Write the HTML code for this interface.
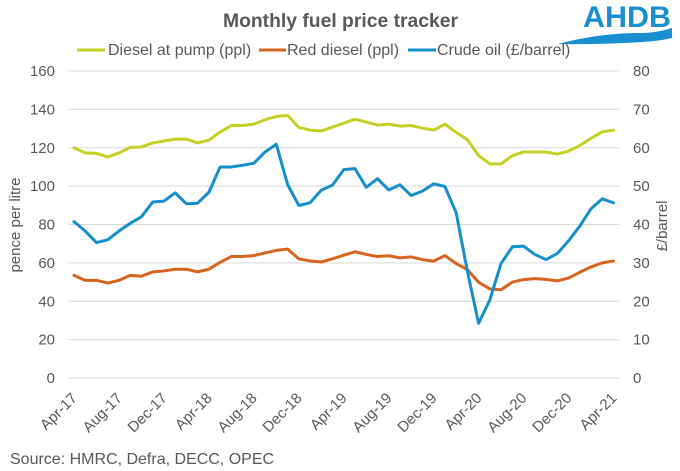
<!DOCTYPE html>
<html>
<head>
<meta charset="utf-8">
<style>
  html, body { margin:0; padding:0; background:#ffffff; }
  svg { display:block; }
  text { font-family: "Liberation Sans", Arial, sans-serif; fill:#595959; }
</style>
</head>
<body>
<svg width="680" height="471" viewBox="0 0 680 471" xmlns="http://www.w3.org/2000/svg">
  <rect x="0" y="0" width="680" height="471" fill="#ffffff"/>

  <!-- Title -->
  <text x="223" y="27" font-size="19" font-weight="bold" textLength="235" lengthAdjust="spacingAndGlyphs">Monthly fuel price tracker</text>

  <!-- AHDB logo -->
  <text x="583" y="27" font-size="30" font-weight="bold" style="fill:#1a8fd0" textLength="88" lengthAdjust="spacingAndGlyphs">AHDB</text>
  <path d="M558 44 C 580 38, 610 33, 640 33 C 655 33, 665 30, 672 28 L 672 38 C 660 41, 645 42, 625 43 C 600 44, 575 44.5, 558 44 Z" fill="#1a8fd0"/>

  <!-- Legend -->
  <line x1="77" y1="50" x2="105" y2="50" stroke="#c5d023" stroke-width="3"/>
  <text x="108" y="55" font-size="16">Diesel at pump (ppl)</text>
  <line x1="259" y1="50" x2="286" y2="50" stroke="#d8641f" stroke-width="3"/>
  <text x="287" y="55" font-size="16">Red diesel (ppl)</text>
  <line x1="408" y1="50" x2="436" y2="50" stroke="#168fcd" stroke-width="3"/>
  <text x="437" y="55" font-size="16">Crude oil (£/barrel)</text>

  <!-- Gridlines -->
  <g stroke="#d9d9d9" stroke-width="1">
    <line x1="68" y1="378" x2="619" y2="378"/>
    <line x1="68" y1="339.6" x2="619" y2="339.6"/>
    <line x1="68" y1="301.3" x2="619" y2="301.3"/>
    <line x1="68" y1="262.9" x2="619" y2="262.9"/>
    <line x1="68" y1="224.5" x2="619" y2="224.5"/>
    <line x1="68" y1="186.1" x2="619" y2="186.1"/>
    <line x1="68" y1="147.8" x2="619" y2="147.8"/>
    <line x1="68" y1="109.4" x2="619" y2="109.4"/>
    <line x1="68" y1="71" x2="619" y2="71"/>
  </g>

  <!-- Left axis labels -->
  <g font-size="15" text-anchor="end">
    <text x="55" y="383">0</text>
    <text x="55" y="344.6">20</text>
    <text x="55" y="306.3">40</text>
    <text x="55" y="267.9">60</text>
    <text x="55" y="229.5">80</text>
    <text x="55" y="191.1">100</text>
    <text x="55" y="152.8">120</text>
    <text x="55" y="114.4">140</text>
    <text x="55" y="76">160</text>
  </g>

  <!-- Right axis labels -->
  <g font-size="15" text-anchor="start">
    <text x="633" y="383">0</text>
    <text x="633" y="344.6">10</text>
    <text x="633" y="306.3">20</text>
    <text x="633" y="267.9">30</text>
    <text x="633" y="229.5">40</text>
    <text x="633" y="191.1">50</text>
    <text x="633" y="152.8">60</text>
    <text x="633" y="114.4">70</text>
    <text x="633" y="76">80</text>
  </g>

  <!-- Axis titles -->
  <text font-size="15" text-anchor="middle" transform="translate(20,225) rotate(-90)">pence per litre</text>
  <text font-size="15" text-anchor="middle" transform="translate(667,226) rotate(-90)">£/barrel</text>

  <!-- X axis labels -->
  <g font-size="15" text-anchor="end">
    <text transform="translate(78,399) rotate(-45)">Apr-17</text>
    <text transform="translate(123,399) rotate(-45)">Aug-17</text>
    <text transform="translate(167.9,399) rotate(-45)">Dec-17</text>
    <text transform="translate(212.9,399) rotate(-45)">Apr-18</text>
    <text transform="translate(257.8,399) rotate(-45)">Aug-18</text>
    <text transform="translate(302.8,399) rotate(-45)">Dec-18</text>
    <text transform="translate(347.8,399) rotate(-45)">Apr-19</text>
    <text transform="translate(392.7,399) rotate(-45)">Aug-19</text>
    <text transform="translate(437.7,399) rotate(-45)">Dec-19</text>
    <text transform="translate(482.6,399) rotate(-45)">Apr-20</text>
    <text transform="translate(527.6,399) rotate(-45)">Aug-20</text>
    <text transform="translate(572.6,399) rotate(-45)">Dec-20</text>
    <text transform="translate(617.5,399) rotate(-45)">Apr-21</text>
  </g>

  <!-- Series (value space: y = 378 - v*1.91875) -->
  <g transform="translate(0,378) scale(1,-1.91875)" fill="none" stroke-width="3" stroke-linejoin="round" stroke-linecap="round">
    <!-- Diesel at pump -->
    <polyline vector-effect="non-scaling-stroke" stroke="#c5d023" points="
      74.0,120 85.2,117.3 96.5,117.1 107.7,115.2 119.0,117.3 130.2,120.2 141.4,120.4 152.7,122.5 163.9,123.5 175.2,124.5
      186.4,124.5 197.6,122.5 208.9,124 220.1,128.2 231.4,131.6 242.6,131.6 253.8,132.3 265.1,134.6 276.3,136.3 287.6,136.8
      298.8,130.6 310.0,129.2 321.3,128.7 332.5,130.8 343.8,132.8 355.0,134.9 366.2,133.4 377.5,131.8 388.7,132.3 400.0,131.3
      411.2,131.6 422.4,130.2 433.7,129.2 444.9,132.3 456.2,128 467.4,124.2 478.6,115.9 489.9,111.6 501.1,111.6 512.4,115.9
      523.6,117.8 534.8,117.8 546.1,117.8 557.3,116.7 568.6,118.3 579.8,121.2 591.0,124.9 602.3,128.3 613.5,129.2"/>
    <!-- Red diesel -->
    <polyline vector-effect="non-scaling-stroke" stroke="#d8641f" points="
      74.0,53.5 85.2,50.9 96.5,50.9 107.7,49.5 119.0,50.9 130.2,53.5 141.4,53 152.7,55.3 163.9,55.8 175.2,56.7
      186.4,56.7 197.6,55.3 208.9,56.7 220.1,60.3 231.4,63.3 242.6,63.3 253.8,63.8 265.1,65.2 276.3,66.5 287.6,67.2
      298.8,62.1 310.0,61 321.3,60.5 332.5,62.1 343.8,64 355.0,65.8 366.2,64.4 377.5,63.3 388.7,63.7 400.0,62.6
      411.2,63.1 422.4,61.7 433.7,60.9 444.9,63.8 456.2,59.6 467.4,56.5 478.6,49.9 489.9,46.4 501.1,46 512.4,50
      523.6,51.3 534.8,51.8 546.1,51.4 557.3,50.6 568.6,52.1 579.8,55.1 591.0,57.9 602.3,60 613.5,61"/>
    <!-- Crude oil (plotted on left-scale equivalent = 2x) -->
    <polyline vector-effect="non-scaling-stroke" stroke="#168fcd" points="
      74.0,81.5 85.2,76.6 96.5,70.6 107.7,72 119.0,76.6 130.2,80.6 141.4,84 152.7,91.7 163.9,92.2 175.2,96.5
      186.4,90.8 197.6,91.1 208.9,96.8 220.1,110 231.4,110 242.6,110.9 253.8,111.9 265.1,117.8 276.3,121.8 287.6,100.8
      298.8,89.9 310.0,91.3 321.3,97.9 332.5,100.5 343.8,108.6 355.0,109.1 366.2,99.4 377.5,103.9 388.7,98 400.0,100.7
      411.2,95.1 422.4,97.4 433.7,101.2 444.9,99.8 456.2,86.1 467.4,55.6 478.6,28.5 489.9,40.8 501.1,59.7 512.4,68.4
      523.6,68.7 534.8,64.4 546.1,61.7 557.3,64.9 568.6,71.5 579.8,79.2 591.0,88.2 602.3,93.4 613.5,91.3"/>
  </g>

  <!-- Source -->
  <text x="10" y="464" font-size="16">Source: HMRC, Defra, DECC, OPEC</text>
</svg>
</body>
</html>
